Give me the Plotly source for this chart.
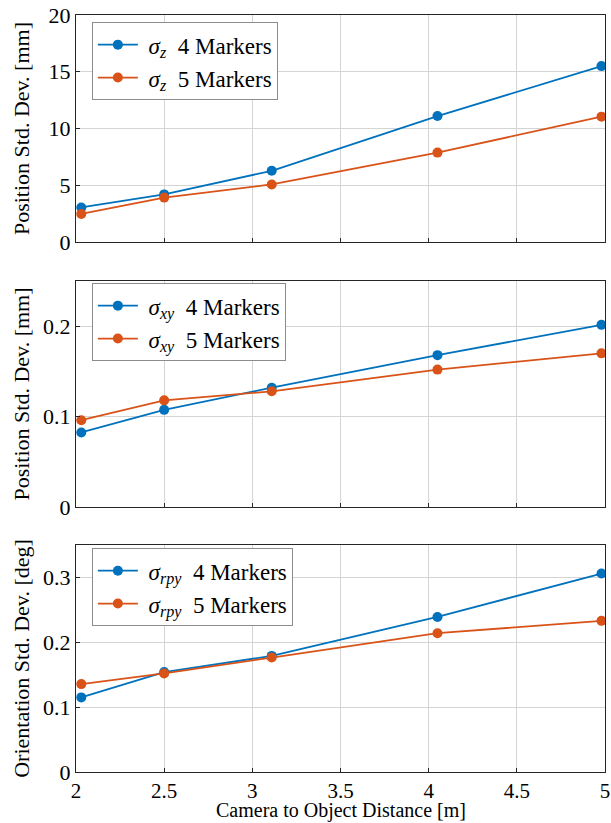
import plotly.graph_objects as go
from plotly.subplots import make_subplots

distance = [2.03, 2.5, 3.11, 4.05, 4.98]

sigma_z_4 = [3.05, 4.2, 6.28, 11.1, 15.5]
sigma_z_5 = [2.48, 3.92, 5.08, 7.88, 11.05]

sigma_xy_4 = [0.0825, 0.1075, 0.132, 0.168, 0.2015]
sigma_xy_5 = [0.096, 0.118, 0.128, 0.152, 0.170]

sigma_rpy_4 = [0.115, 0.154, 0.179, 0.239, 0.306]
sigma_rpy_5 = [0.1355, 0.152, 0.1765, 0.214, 0.233]

y_titles = ["Position Std. Dev. [mm]", "Position Std. Dev. [mm]", "Orientation Std. Dev. [deg]"]
y_ranges = [[0, 20], [0, 0.25], [0, 0.35]]
y_dticks = [5, 0.1, 0.1]
x_title = "Camera to Object Distance [m]"
x_ticks = [2, 2.5, 3, 3.5, 4, 4.5, 5]

BLUE = "#0072BD"
ORANGE = "#D95319"
FONT = "Liberation Serif, Times New Roman, serif"

fig = make_subplots(rows=3, cols=1, shared_xaxes=False, vertical_spacing=0.05)

series = [
    (sigma_z_4, sigma_z_5, "<i>σ</i><sub><i>z</i></sub>", "legend"),
    (sigma_xy_4, sigma_xy_5, "<i>σ</i><sub><i>xy</i></sub>", "legend2"),
    (sigma_rpy_4, sigma_rpy_5, "<i>σ</i><sub><i>rpy</i></sub>", "legend3"),
]

for i, (s4, s5, sym, leg) in enumerate(series):
    r = i + 1
    fig.add_trace(go.Scatter(x=distance, y=s4, mode="lines+markers",
                             name=f"&nbsp;{sym}  4 Markers", legend=leg,
                             line=dict(color=BLUE, width=1.8),
                             marker=dict(color=BLUE, size=10)), row=r, col=1)
    fig.add_trace(go.Scatter(x=distance, y=s5, mode="lines+markers",
                             name=f"&nbsp;{sym}  5 Markers", legend=leg,
                             line=dict(color=ORANGE, width=1.8),
                             marker=dict(color=ORANGE, size=10)), row=r, col=1)

domains = [[0.700, 1.0], [0.350, 0.6486], [0.0, 0.2999]]
standoffs = [12, 7, 7]
for i in range(3):
    r = i + 1
    fig.update_xaxes(range=[2, 5], tickvals=x_ticks,
                     showticklabels=(r == 3), automargin=False,
                     showgrid=True, gridcolor="#d4d4d4", gridwidth=1,
                     showline=True, linecolor="#262626", linewidth=1.2, mirror=True,
                     ticks="inside", ticklen=4, tickcolor="#262626",
                     zeroline=False,
                     tickfont=dict(family=FONT, size=21, color="black"),
                     row=r, col=1)
    fig.update_yaxes(range=y_ranges[i], dtick=y_dticks[i], tick0=0,
                     domain=domains[i], automargin=False,
                     showgrid=True, gridcolor="#d4d4d4", gridwidth=1,
                     showline=True, linecolor="#262626", linewidth=1.2, mirror=True,
                     ticks="inside", ticklen=4, tickcolor="#262626",
                     zeroline=False,
                     tickfont=dict(family=FONT, size=22, color="black"),
                     title=dict(text=y_titles[i], font=dict(family=FONT, size=22, color="black"),
                                standoff=standoffs[i]),
                     row=r, col=1)

fig.add_annotation(text=x_title, xref="paper", yref="paper", x=0.5, y=-0.0502,
                   xanchor="center", yanchor="middle", showarrow=False, borderpad=0,
                   font=dict(family=FONT, size=20, color="black"))

legend_style = dict(x=0.030, xanchor="left", yanchor="top",
                    bgcolor="white", bordercolor="#8c8c8c", borderwidth=1,
                    font=dict(family=FONT, size=23, color="black"),
                    tracegroupgap=0, itemwidth=40)

fig.update_layout(
    width=611, height=823,
    margin=dict(l=76, r=6, t=15, b=51),
    plot_bgcolor="white", paper_bgcolor="white",
    font=dict(family=FONT, size=22, color="black"),
    legend=dict(y=0.9905, **legend_style),
    legend2=dict(y=0.6457, **legend_style),
    legend3=dict(y=0.2956, **legend_style),
)

fig.write_html("out.html")
